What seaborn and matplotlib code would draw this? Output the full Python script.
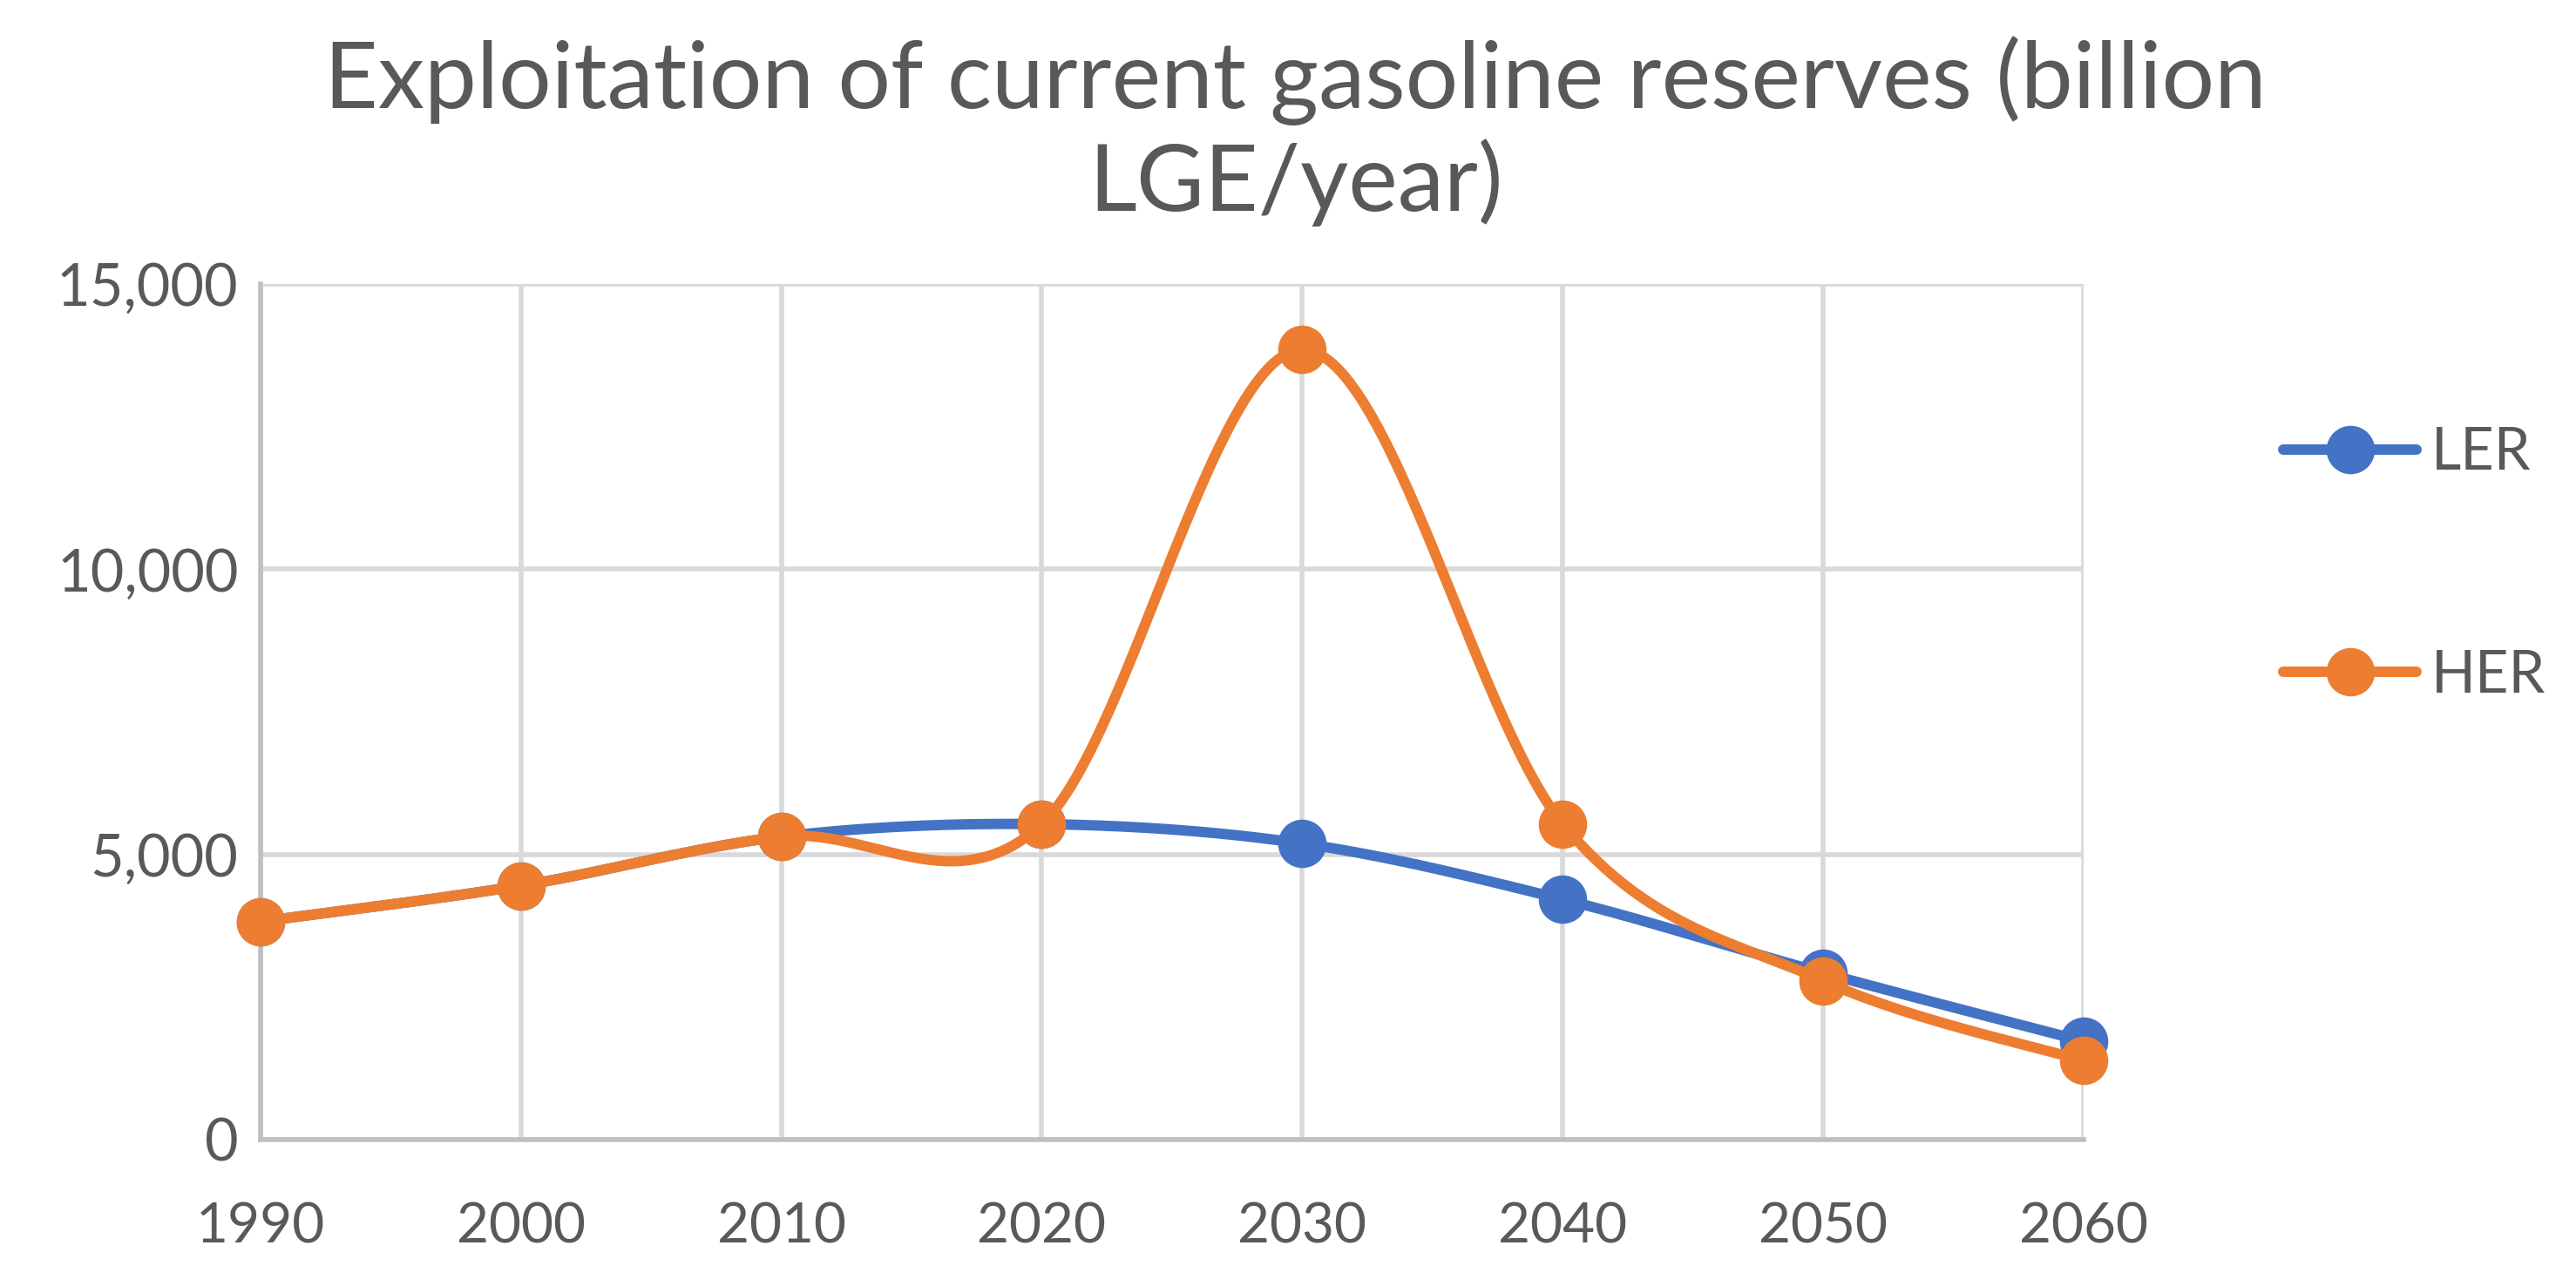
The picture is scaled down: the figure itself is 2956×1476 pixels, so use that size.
"""
Exploitation of current gasoline reserves - LER vs HER scenario, smoothed lines.
"""

import numpy as np
import pandas as pd
import matplotlib.pyplot as plt
import seaborn as sns
from matplotlib.lines import Line2D
from matplotlib.ticker import FuncFormatter

# Data (billion LGE/year)
years = [1990, 2000, 2010, 2020, 2030, 2040, 2050, 2060]
ler = [3820, 4450, 5310, 5530, 5190, 4210, 2920, 1720]
her = [3820, 4450, 5310, 5530, 13850, 5530, 2780, 1380]
series_names = ['LER', 'HER']
colors = {'LER': '#4472C4', 'HER': '#ED7D31'}

title = 'Exploitation of current gasoline reserves (billion\nLGE/year)'


def smooth_curve(x, y, n=60):
    # Excel-style smoothed line: Catmull-Rom as cubic Bezier segments
    x = np.asarray(x, float)
    y = np.asarray(y, float)
    px = np.concatenate([[x[0]], x, [x[-1]]])
    py = np.concatenate([[y[0]], y, [y[-1]]])
    xs, ys = [], []
    t = np.linspace(0, 1, n)
    for i in range(1, len(px) - 2):
        p0 = np.array([px[i], py[i]])
        p3 = np.array([px[i + 1], py[i + 1]])
        c1 = p0 + (p3 - np.array([px[i - 1], py[i - 1]])) / 6
        c2 = p3 - (np.array([px[i + 2], py[i + 2]]) - p0) / 6
        b = ((1 - t) ** 3)[:, None] * p0 + (3 * (1 - t) ** 2 * t)[:, None] * c1 \
            + (3 * (1 - t) * t ** 2)[:, None] * c2 + (t ** 3)[:, None] * p3
        xs.extend(b[:, 0])
        ys.extend(b[:, 1])
    return xs, ys


# long-form tables for seaborn
curves = []
points = []
for name, vals in zip(series_names, [ler, her]):
    sx, sy = smooth_curve(years, vals)
    curves.append(pd.DataFrame({'x': sx, 'y': sy, 'series': name}))
    points.append(pd.DataFrame({'year': years, 'value': vals, 'series': name}))
curve_df = pd.concat(curves, ignore_index=True)
point_df = pd.concat(points, ignore_index=True)

sns.set_style('white')
plt.rcParams['font.family'] = ['Lato', 'DejaVu Sans']

fig = plt.figure(figsize=(14.78, 7.38), dpi=200)
ax = fig.add_axes([0.101, 0.114, 0.708, 0.665])

grid_color = '#D9D9D9'
text_color = '#595959'
lw = 4.3
ms = 19

for name in series_names:
    c = curve_df[curve_df['series'] == name]
    p = point_df[point_df['series'] == name]
    sns.lineplot(data=c, x='x', y='y', sort=False, color=colors[name],
                 linewidth=lw, ax=ax, zorder=3, estimator=None)
    ax.plot(p['year'], p['value'], 'o', color=colors[name], markersize=ms,
            zorder=3, clip_on=False)

ax.set_xlim(1990, 2060)
ax.set_ylim(0, 15000)
ax.set_xticks(years)
ax.set_yticks([0, 5000, 10000, 15000])
ax.yaxis.set_major_formatter(FuncFormatter(lambda v, _: f'{int(v):,}'))
ax.set_xlabel('')
ax.set_ylabel('')

ax.grid(True, color=grid_color, linewidth=2.0, zorder=0)
ax.set_axisbelow(True)
for side in ['top', 'right']:
    ax.spines[side].set_visible(False)
for side in ['left', 'bottom']:
    ax.spines[side].set_color('#BFBFBF')
    ax.spines[side].set_linewidth(2.0)

ax.tick_params(axis='x', length=0, pad=26, labelsize=23, labelcolor=text_color)
ax.tick_params(axis='y', length=0, pad=9, labelsize=24, labelcolor=text_color)

fig.text(0.503, 0.898, title, ha='center', va='center', fontsize=38.5,
         color=text_color, linespacing=1.18)

handles = [Line2D([0], [0], color=colors[n], linewidth=lw, marker='o',
                  markersize=ms, solid_capstyle='round') for n in series_names]
fig.legend(handles, series_names, loc='center left', bbox_to_anchor=(0.866, 0.561),
           frameon=False, fontsize=24, handlelength=2.3, handletextpad=0.25,
           labelspacing=2.9, labelcolor=text_color)

plt.savefig('out.png', dpi=200)
